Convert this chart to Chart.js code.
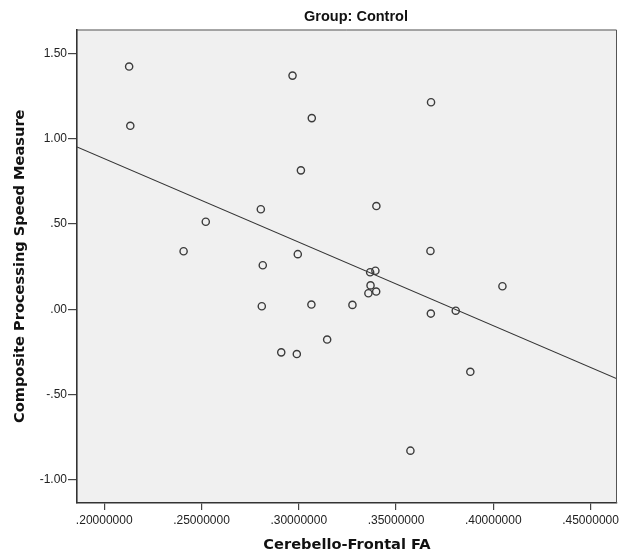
<!DOCTYPE html>
<html>
<head>
<meta charset="utf-8">
<script src="https://cdn.jsdelivr.net/npm/chart.js@4"></script>
<style>
  body { margin: 0; background: #fff; }
  canvas { display: block; }
</style>
</head>
<body>
<canvas id="chart" width="619" height="556"></canvas>
<script>
// values
const faValues = [0.2128, 0.2134, 0.2408, 0.2522, 0.2805, 0.2815, 0.2810, 0.2910, 0.2990, 0.2995,
  0.2968, 0.3067, 0.3011, 0.3065, 0.3146, 0.3276, 0.3358, 0.3398, 0.3369, 0.3367,
  0.3394, 0.3680, 0.3399, 0.3677, 0.3679, 0.3807, 0.4047, 0.3882, 0.3574];
const speedValues = [1.422, 1.075, 0.340, 0.513, 0.586, 0.258, 0.018, -0.252, -0.262, 0.323,
  1.369, 1.120, 0.814, 0.028, -0.177, 0.026, 0.094, 0.104, 0.140, 0.217,
  0.226, 1.213, 0.605, 0.342, -0.025, -0.008, 0.135, -0.366, -0.828];
// fit line ends at the axis limits
const fitX = [0.186, 0.4636];
const fitY = [0.951, -0.407];
const xTicks = [0.20, 0.25, 0.30, 0.35, 0.40, 0.45];
const yTicks = [-1.00, -0.50, 0.00, 0.50, 1.00, 1.50];
const xRange = [0.186, 0.4636];
const yRange = [-1.1345, 1.639];
const chartTitle = 'Group: Control';

const points = faValues.map((x, i) => ({ x: x, y: speedValues[i] }));
const linePts = fitX.map((x, i) => ({ x: x, y: fitY[i] }));

function fmtX(v) { return v.toFixed(8).replace(/^0\./, '.'); }
function fmtY(v) { return v.toFixed(2).replace(/^(-?)0\./, '$1.'); }

// grey plot area, frame and the group title
const frame = {
  id: 'frame',
  beforeDraw(chart) {
    const a = chart.chartArea, ctx = chart.ctx;
    ctx.save();
    ctx.fillStyle = '#f0f0f0';
    ctx.fillRect(a.left, a.top, a.right - a.left, a.bottom - a.top);
    ctx.restore();
  },
  afterDraw(chart) {
    const a = chart.chartArea, ctx = chart.ctx;
    ctx.save();
    ctx.strokeStyle = '#555';
    ctx.lineWidth = 1;
    ctx.beginPath();
    ctx.moveTo(a.left, a.top + 0.5);
    ctx.lineTo(a.right - 0.5, a.top + 0.5);
    ctx.lineTo(a.right - 0.5, a.bottom);
    ctx.stroke();
    ctx.fillStyle = '#111';
    ctx.font = 'bold 14.5px "Liberation Sans", Arial, sans-serif';
    ctx.textAlign = 'center';
    ctx.textBaseline = 'middle';
    ctx.fillText(chartTitle, (a.left + a.right) / 2 + 9, 17);
    ctx.restore();
  }
};

const tickFont = { family: '"Liberation Sans", Arial, sans-serif', size: 12 };
const titleFont = { family: '"DejaVu Sans", Verdana, sans-serif', size: 14.6, weight: 'bold' };

new Chart(document.getElementById('chart'), {
  type: 'scatter',
  data: {
    datasets: [
      {
        data: points,
        pointStyle: 'circle',
        pointRadius: 3.6,
        pointBorderWidth: 1.4,
        borderColor: '#3c3c3c',
        backgroundColor: 'rgba(0,0,0,0)',
        order: 1
      },
      {
        type: 'line',
        data: linePts,
        showLine: true,
        pointRadius: 0,
        borderColor: '#333',
        borderWidth: 1.1,
        fill: false,
        order: 2
      }
    ]
  },
  options: {
    responsive: false,
    animation: false,
    devicePixelRatio: 1,
    layout: { autoPadding: false, padding: { top: 29.5, right: 2, left: 0, bottom: 0 } },
    plugins: { legend: { display: false }, tooltip: { enabled: false }, title: { display: false } },
    scales: {
      x: {
        type: 'linear',
        min: xRange[0], max: xRange[1],
        afterBuildTicks: s => { s.ticks = xTicks.map(v => ({ value: v })); },
        afterFit: s => { s.height = 53; s.paddingLeft = 0; s.paddingRight = 0; },
        ticks: { callback: v => fmtX(v), font: tickFont, color: '#222', padding: 3, maxRotation: 0, autoSkip: false },
        grid: { drawOnChartArea: false, drawTicks: true, tickLength: 7, color: '#444', lineWidth: 1.2 },
        border: { display: true, color: '#333', width: 1.6 },
        title: { display: true, text: 'Cerebello-Frontal FA', font: titleFont, color: '#111', padding: { top: 0, bottom: 2 } }
      },
      y: {
        type: 'linear',
        min: yRange[0], max: yRange[1],
        afterBuildTicks: s => { s.ticks = yTicks.map(v => ({ value: v })); },
        afterFit: s => { s.width = 77; s.paddingTop = 0; s.paddingBottom = 0; },
        ticks: { callback: v => fmtY(v), font: tickFont, color: '#222', padding: 1, autoSkip: false },
        grid: { drawOnChartArea: false, drawTicks: true, tickLength: 9, color: '#444', lineWidth: 1.2 },
        border: { display: true, color: '#333', width: 1.6 },
        title: { display: true, text: 'Composite Processing Speed Measure', font: titleFont, color: '#111', padding: { top: 11, bottom: 0 } }
      }
    }
  },
  plugins: [frame]
});
</script>
</body>
</html>
